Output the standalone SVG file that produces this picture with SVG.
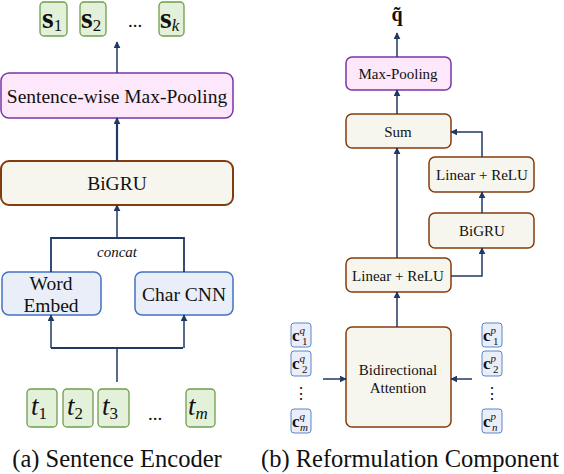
<svg xmlns="http://www.w3.org/2000/svg" width="564" height="474" viewBox="0 0 564 474">
<defs>
<marker id="ah" viewBox="0 0 10 10" refX="9" refY="5" markerWidth="7" markerHeight="7" markerUnits="userSpaceOnUse" orient="auto">
<path d="M0,0 L10,5 L0,10 z" fill="#203864"/>
</marker>
<style>
text{fill:#111}
.f{font-family:"Liberation Serif",serif}
.green{fill:#e3f0da;stroke:#6e9e4c;stroke-width:1.3}
.pink{fill:#fce8fa;stroke:#7a35a8;stroke-width:1.5}
.beige{fill:#f6f6ee;stroke:#843c0c;stroke-width:1.5}
.blue{fill:#e9eef8;stroke:#4472c4;stroke-width:1.5}
.cbox{fill:#e9eef8;stroke:#5b86cc;stroke-width:1}
.conn path{fill:none;stroke:#203864;stroke-width:1.5}
.lbl{font-size:19.5px;text-anchor:middle}
.lbs{font-size:15px;text-anchor:middle}
.cap{font-size:24.5px;text-anchor:middle}
.sv{font-size:30px;font-weight:bold}
.tv{font-size:27px;font-style:italic}
.sub{font-size:17px}
.cv{font-size:17px;font-weight:bold}
.cs{font-size:11px}
</style>
</defs>
<g class="f" font-family="Liberation Serif, serif">
<!-- Left panel: Sentence Encoder -->
<g id="s1"><rect class="green" x="40" y="2" width="27" height="34" rx="4"/><text x="42" y="28"><tspan class="sv">s</tspan><tspan class="sub" dy="3">1</tspan></text></g>
<g id="s2"><rect class="green" x="80" y="2" width="26" height="34" rx="4"/><text x="81" y="28"><tspan class="sv">s</tspan><tspan class="sub" dy="3">2</tspan></text></g>
<text x="135" y="27" style="font-size:19px;text-anchor:middle">...</text>
<g id="sk"><rect class="green" x="159" y="2" width="25" height="34" rx="4"/><text x="160" y="28"><tspan class="sv">s</tspan><tspan class="sub" dy="3" font-style="italic">k</tspan></text></g>

<g id="maxpool-s"><rect class="pink" x="1" y="73" width="232" height="45" rx="8"/><text class="lbl" x="117" y="103">Sentence-wise Max-Pooling</text></g>
<g id="bigru-s"><rect class="beige" x="1" y="161" width="232" height="44" rx="8" style="stroke-width:2"/><text class="lbl" x="117" y="190">BiGRU</text></g>
<text x="117" y="257" style="font-size:15px;font-style:italic;text-anchor:middle">concat</text>
<g id="wordembed"><rect class="blue" x="2" y="272" width="99" height="43" rx="7"/><text class="lbl" x="51" y="290">Word</text><text class="lbl" x="51" y="312">Embed</text></g>
<g id="charcnn"><rect class="blue" x="135" y="272" width="98" height="43" rx="7"/><text class="lbl" x="184" y="301">Char CNN</text></g>

<g id="t1"><rect class="green" x="27" y="389" width="30" height="38" rx="4"/><text x="31" y="415"><tspan class="tv">t</tspan><tspan class="sub" dy="4">1</tspan></text></g>
<g id="t2"><rect class="green" x="63" y="389" width="30" height="38" rx="4"/><text x="67" y="415"><tspan class="tv">t</tspan><tspan class="sub" dy="4">2</tspan></text></g>
<g id="t3"><rect class="green" x="98" y="389" width="31" height="38" rx="4"/><text x="102" y="415"><tspan class="tv">t</tspan><tspan class="sub" dy="4">3</tspan></text></g>
<text x="155" y="420" style="font-size:19px;text-anchor:middle">...</text>
<g id="tm"><rect class="green" x="186" y="389" width="29" height="38" rx="4"/><text x="188" y="415"><tspan class="tv">t</tspan><tspan class="sub" dy="4" font-style="italic">m</tspan></text></g>

<!-- Right panel: Reformulation Component -->
<text x="397" y="21" style="font-size:20px;font-weight:bold;text-anchor:middle">q̃</text>
<g id="maxpool-r"><rect class="pink" x="346" y="57" width="105" height="33" rx="6"/><text class="lbs" x="398" y="79">Max-Pooling</text></g>
<g id="sum"><rect class="beige" x="346" y="114" width="105" height="34" rx="6"/><text class="lbs" x="398" y="137">Sum</text></g>
<g id="linear-up"><rect class="beige" x="429" y="157" width="105" height="35" rx="6"/><text class="lbs" x="482" y="180">Linear + ReLU</text></g>
<g id="bigru-r"><rect class="beige" x="429" y="213" width="105" height="35" rx="6"/><text class="lbs" x="482" y="236">BiGRU</text></g>
<g id="linear-low"><rect class="beige" x="346" y="258" width="105" height="34" rx="6"/><text class="lbs" x="398" y="281">Linear + ReLU</text></g>
<g id="attention"><rect class="beige" x="346" y="327" width="105" height="100" rx="6"/><text class="lbs" x="398" y="375">Bidirectional</text><text class="lbs" x="398" y="393">Attention</text></g>

<g id="cq"><rect class="cbox" x="291" y="323" width="20" height="24" rx="3"/><text x="292" y="341"><tspan class="cv">c</tspan><tspan class="cs" font-style="italic" dy="-7">q</tspan></text><text class="cs" x="302" y="345">1</text>
<rect class="cbox" x="291" y="351" width="20" height="25" rx="3"/><text x="292" y="369"><tspan class="cv">c</tspan><tspan class="cs" font-style="italic" dy="-7">q</tspan></text><text class="cs" x="302" y="373">2</text>
<text x="301" y="399" style="font-size:16px;text-anchor:middle">⋮</text>
<rect class="cbox" x="291" y="409" width="20" height="24" rx="3"/><text x="292" y="427"><tspan class="cv">c</tspan><tspan class="cs" font-style="italic" dy="-7">q</tspan></text><text class="cs" x="300" y="431" font-style="italic">m</text></g>
<g id="cp"><rect class="cbox" x="482" y="323" width="20" height="24" rx="3"/><text x="483" y="341"><tspan class="cv">c</tspan><tspan class="cs" font-style="italic" dy="-7">p</tspan></text><text class="cs" x="493" y="345">1</text>
<rect class="cbox" x="482" y="351" width="20" height="25" rx="3"/><text x="483" y="369"><tspan class="cv">c</tspan><tspan class="cs" font-style="italic" dy="-7">p</tspan></text><text class="cs" x="493" y="373">2</text>
<text x="492" y="399" style="font-size:16px;text-anchor:middle">⋮</text>
<rect class="cbox" x="482" y="409" width="20" height="24" rx="3"/><text x="483" y="427"><tspan class="cv">c</tspan><tspan class="cs" font-style="italic" dy="-7">p</tspan></text><text class="cs" x="492" y="431" font-style="italic">n</text></g>

<g class="conn">
<path d="M117,73 V42" marker-end="url(#ah)"/>
<path d="M117,161 V118" marker-end="url(#ah)" style="stroke-width:2.2"/>
<path d="M117,238 V205" marker-end="url(#ah)"/>
<path d="M51,272 V238 H184 V272" style="stroke-width:1.8"/>
<path d="M117,382 V348"/>
<path d="M51,348 H183" style="stroke-width:1.8"/>
<path d="M51,348 V315" marker-end="url(#ah)"/>
<path d="M184,348 V315" marker-end="url(#ah)"/>
<path d="M397,57 V33" marker-end="url(#ah)"/>
<path d="M397,114 V90" marker-end="url(#ah)"/>
<path d="M397,258 V148" marker-end="url(#ah)"/>
<path d="M482,157 V132 H451" marker-end="url(#ah)"/>
<path d="M482,213 V192" marker-end="url(#ah)"/>
<path d="M451,276 H482 V248" marker-end="url(#ah)"/>
<path d="M397,327 V292" marker-end="url(#ah)"/>
<path d="M323,379 H346" marker-end="url(#ah)"/>
<path d="M472,379 H451" marker-end="url(#ah)"/>
</g>

<text class="cap" x="117" y="467">(a) Sentence Encoder</text>
<text class="cap" x="410" y="467">(b) Reformulation Component</text>
</g>
</svg>
